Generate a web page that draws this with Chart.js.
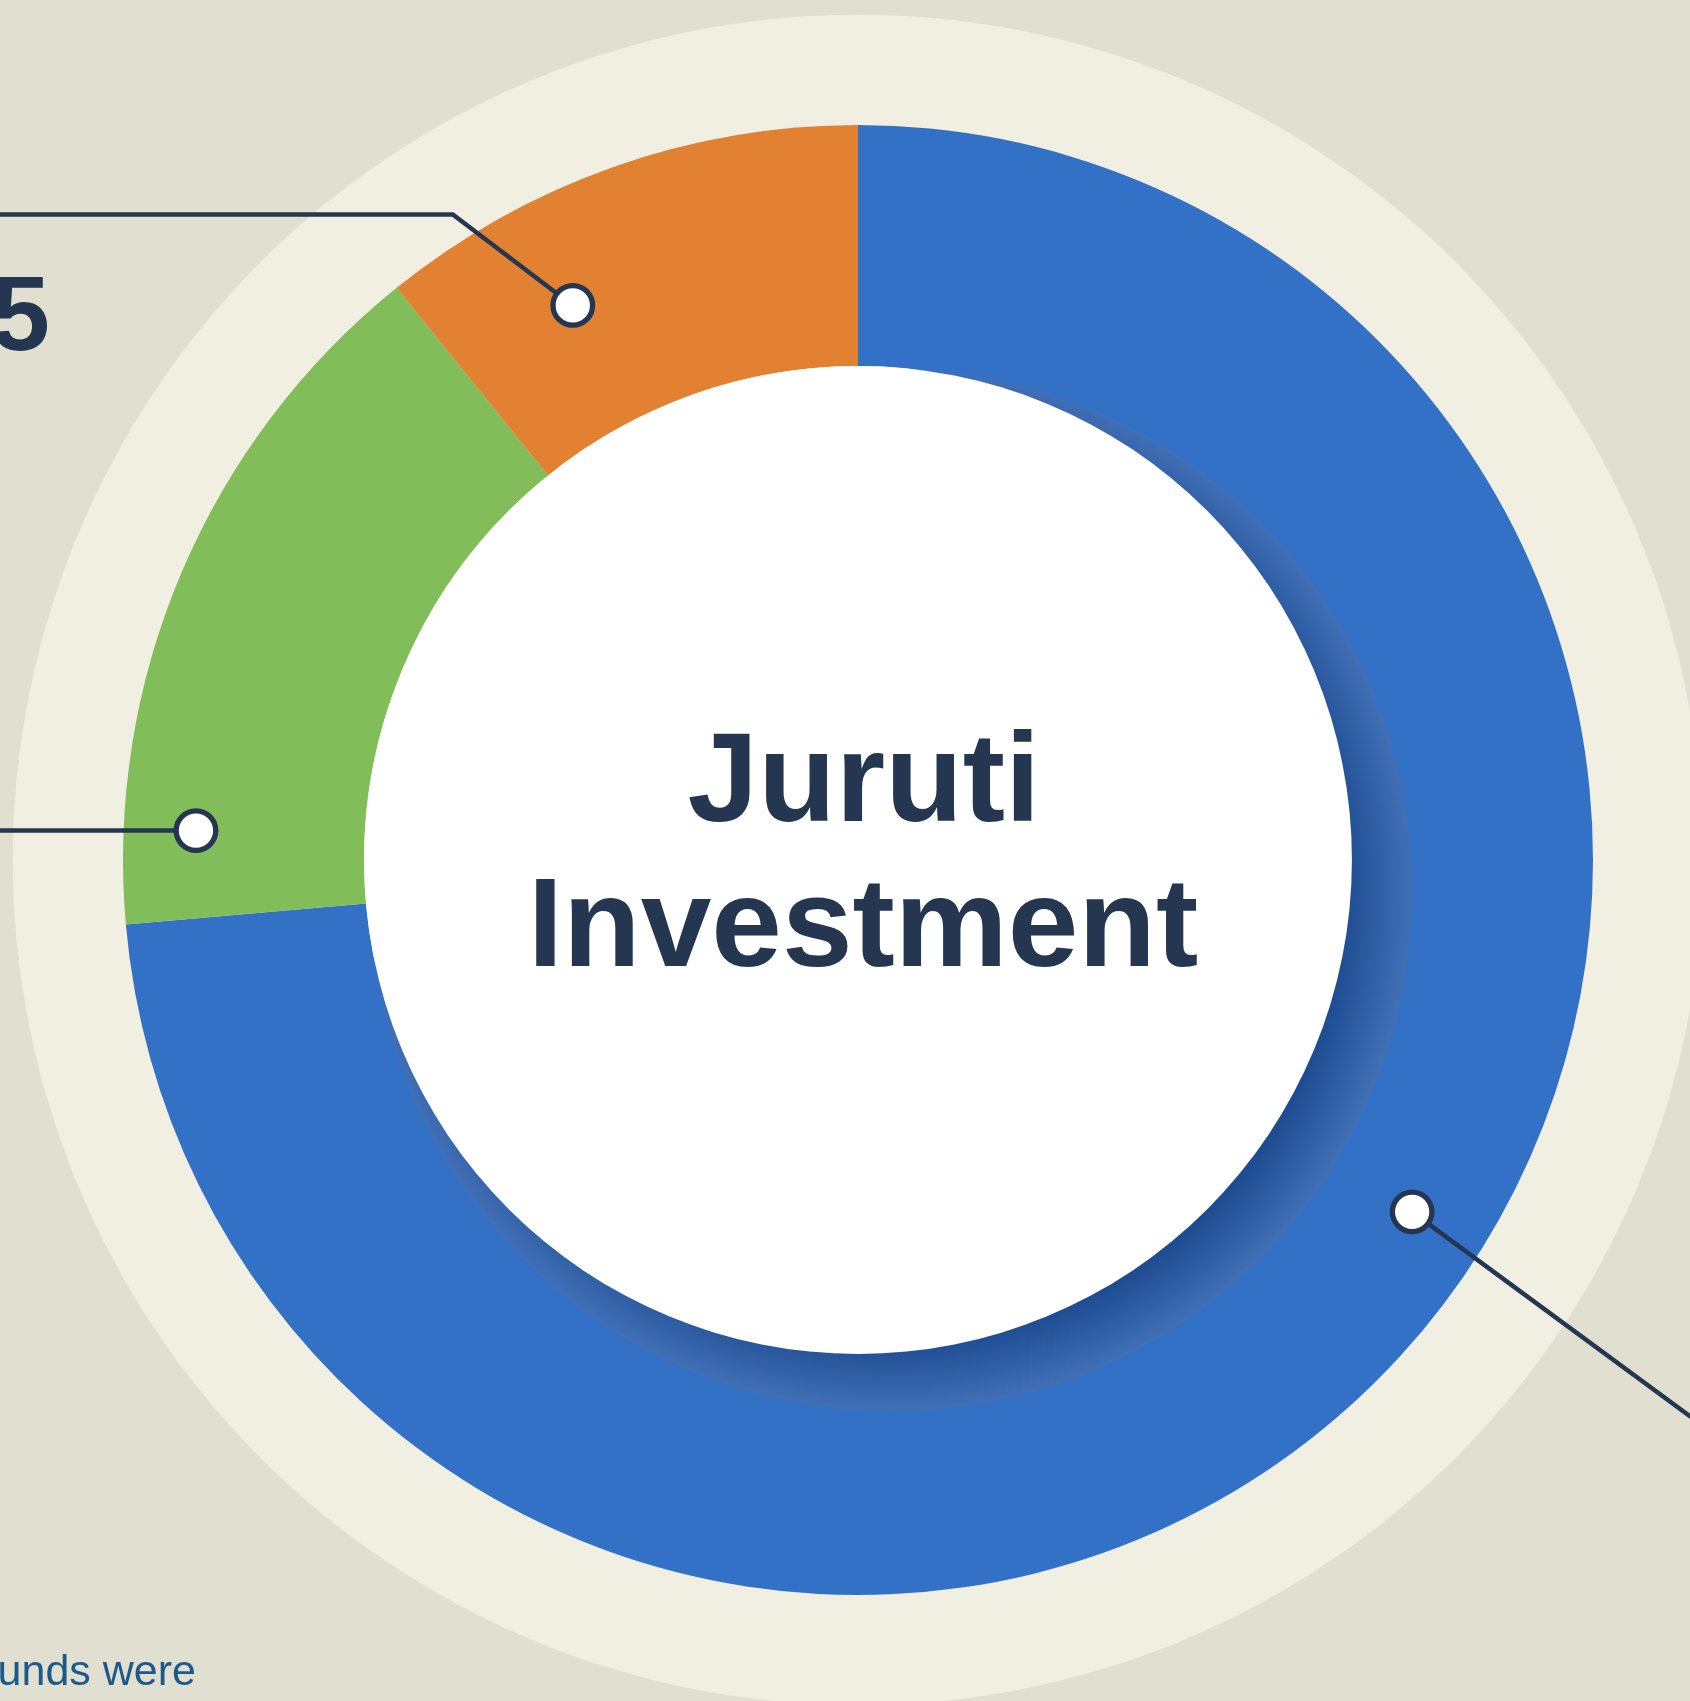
<!DOCTYPE html>
<html>
<head>
<meta charset="utf-8">
<script src="https://cdn.jsdelivr.net/npm/chart.js@4.4.0/dist/chart.umd.min.js"></script>
<style>
  html, body { margin: 0; padding: 0; background: #e1dfcf; }
  canvas { display: block; }
</style>
</head>
<body>
<canvas id="myChart" width="1690" height="1701"></canvas>
<script>
let labels = ["Segment A", "Segment B", "Segment C"];
let shares = [73.6, 15.6, 10.8];
let colors = ['#3271c6', '#81bd59', '#e18131'];
let centerLines = ["Juruti", "Investment"];
let sideNumber = "5";
let footText = "funds were";

let navy = '#243650';

// leader markers: where on each slice (fraction along the arc, fraction across the ring)
let leaders = [
    { index: 0, along: 0.462, depth: 0.674, path: [[420, 309]] },
    { index: 1, along: 0.135, depth: 0.70, path: ['left'] },
    { index: 2, along: 0.30, depth: 0.538, path: [[-120, -91], 'left'] }
];

let juruti = {
    id: 'juruti',
    beforeDatasetsDraw(chart) {
        let arc = chart.getDatasetMeta(0).data[0];
        let ctx = chart.ctx;
        ctx.save();
        // pale disc behind the ring
        ctx.fillStyle = '#f1efe1';
        ctx.beginPath();
        ctx.arc(arc.x, arc.y, arc.outerRadius * 1.15, 0, Math.PI * 2);
        ctx.fill();

        ctx.fillStyle = navy;
        ctx.font = 'bold 106px "Liberation Sans"';
        ctx.textAlign = 'right';
        ctx.textBaseline = 'alphabetic';
        ctx.fillText(sideNumber, 50, 350);

        ctx.fillStyle = '#1d5a8c';
        ctx.font = '43px "Liberation Sans"';
        ctx.fillText(footText, 196, 1685);
        ctx.restore();
    },
    afterDatasetsDraw(chart) {
        let meta = chart.getDatasetMeta(0);
        let arc = meta.data[0];
        let ctx = chart.ctx;
        let cx = arc.x, cy = arc.y;
        let rIn = arc.innerRadius, rOut = arc.outerRadius;

        ctx.save();
        // soft shadow under the centre disc
        let sx = cx + rOut * 0.045, sy = cy + rOut * 0.041;
        let sr = rIn * 1.055;
        ctx.beginPath();
        ctx.arc(cx, cy, rOut, 0, Math.PI * 2);
        ctx.clip();
        let g = ctx.createRadialGradient(sx, sy, 0, sx, sy, sr);
        g.addColorStop(0, '#1a478d');
        g.addColorStop(0.86, '#1b4a90');
        g.addColorStop(1, '#4170b6');
        ctx.fillStyle = g;
        ctx.beginPath();
        ctx.arc(sx, sy, sr, 0, Math.PI * 2);
        ctx.fill();
        ctx.restore();

        ctx.save();
        ctx.fillStyle = '#ffffff';
        ctx.beginPath();
        ctx.arc(cx, cy, rIn, 0, Math.PI * 2);
        ctx.fill();

        ctx.fillStyle = navy;
        ctx.font = 'bold 127px "Liberation Sans"';
        ctx.textAlign = 'center';
        ctx.textBaseline = 'alphabetic';
        ctx.fillText(centerLines[0], cx + 6, cy - 39);
        ctx.fillText(centerLines[1], cx + 5, cy + 106);

        // leader lines and markers
        leaders.forEach(function (l) {
            let el = meta.data[l.index];
            let a = el.startAngle + (el.endAngle - el.startAngle) * l.along;
            let r = el.innerRadius + (el.outerRadius - el.innerRadius) * l.depth;
            let mx = cx + r * Math.cos(a), my = cy + r * Math.sin(a);
            ctx.strokeStyle = navy;
            ctx.lineWidth = 4.5;
            ctx.beginPath();
            ctx.moveTo(mx, my);
            let px = mx, py = my;
            l.path.forEach(function (p) {
                if (p === 'left') { px = 0; } else { px += p[0]; py += p[1]; }
                ctx.lineTo(px, py);
            });
            ctx.stroke();

            ctx.fillStyle = '#ffffff';
            ctx.lineWidth = 5.3;
            ctx.beginPath();
            ctx.arc(mx, my, 19.8, 0, Math.PI * 2);
            ctx.fill();
            ctx.stroke();
        });
        ctx.restore();
    }
};

let myChart = document.getElementById("myChart").getContext('2d');

let chart1 = new Chart(myChart, {
    type: 'doughnut',
    data: {
        labels: labels,
        datasets: [{
            data: shares,
            backgroundColor: colors,
            borderWidth: 0
        }]
    },
    options: {
        responsive: false,
        animation: false,
        cutout: '67.2%',
        layout: {
            padding: { left: 123, right: 97, top: 125, bottom: 106 }
        },
        plugins: {
            legend: { display: false },
            tooltip: { enabled: false }
        }
    },
    plugins: [juruti]
});
</script>
</body>
</html>
